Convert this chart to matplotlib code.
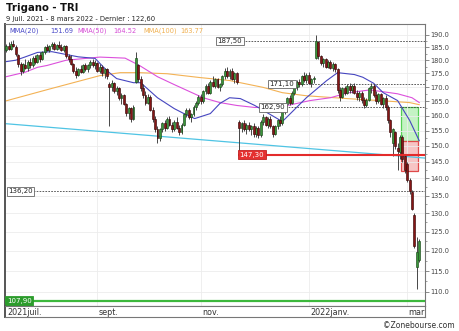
import matplotlib
matplotlib.use("Agg")
import matplotlib.pyplot as plt
import matplotlib.ticker as mticker
from matplotlib.patches import Rectangle
import numpy as np
import pandas as pd

# trading days shown on the chart
dates = pd.bdate_range("2021-07-09", "2022-03-08")

# daily candles (EUR)
opens = [184.0, 185.5, 184.5, 186.5, 185.0, 182.0, 178.5, 176.0, 178.0, 177.0,
         179.5, 178.0, 181.0, 179.5, 182.0, 180.5, 183.0, 185.0, 184.0, 185.5,
         186.5, 184.5, 186.0, 185.0, 184.0, 185.5, 181.5, 180.5, 178.5, 176.0,
         174.5, 176.5, 175.5, 178.0, 176.5, 178.0, 179.5, 178.0, 179.0, 176.0,
         177.5, 175.0, 176.5, 171.0, 170.0, 171.5, 168.5, 169.5, 166.0, 167.0,
         164.0, 161.0, 162.5, 159.0, 172.0, 178.0, 173.0, 169.5, 167.0, 164.5,
         166.5, 162.0, 159.0, 155.5, 152.5, 155.5, 157.5, 156.0, 159.0, 157.0,
         155.5, 158.0, 156.0, 154.5, 157.0, 160.5, 162.0, 159.5, 160.5, 163.0,
         164.5, 166.5, 165.0, 168.5, 170.5, 168.0, 172.0, 170.5, 173.0, 170.0,
         171.0, 174.0, 176.0, 174.0, 176.0, 173.0, 175.0, 158.0, 156.0, 157.5,
         155.5, 157.0, 155.5, 156.5, 154.0, 156.0, 153.5, 158.0, 159.5, 157.0,
         159.0, 156.5, 154.0, 156.5, 158.5, 157.5, 161.5, 164.0, 166.0, 164.5,
         168.0, 170.0, 172.0, 171.0, 174.0, 172.5, 174.5, 171.5, 173.0, 181.0,
         187.0, 181.5, 179.0, 180.5, 177.5, 179.5, 177.0, 178.5, 176.5, 169.0,
         166.5, 169.5, 168.0, 170.5, 169.0, 170.5, 168.0, 166.5, 168.0, 165.5,
         163.5, 165.5, 169.5, 170.5, 167.0, 165.0, 167.5, 164.0, 166.0, 163.0,
         158.5, 151.0, 154.5, 149.5, 148.0, 153.0, 147.0, 144.5, 139.5, 136.0,
         129.5, 116.0, 117.8]
highs = [186.5, 187.0, 187.5, 188.0, 186.0, 182.5, 179.5, 179.0, 180.5, 180.0,
         181.0, 181.5, 182.0, 182.5, 183.0, 183.5, 185.5, 186.5, 186.0, 187.0,
         187.0, 186.5, 187.5, 186.5, 186.0, 186.0, 182.5, 182.0, 179.0, 177.5,
         177.0, 178.0, 178.5, 179.0, 178.5, 180.0, 180.5, 180.0, 179.5, 178.5,
         178.0, 177.0, 177.0, 172.0, 172.5, 172.0, 170.5, 170.0, 168.0, 167.5,
         164.5, 163.0, 163.0, 163.5, 183.0, 178.5, 174.0, 171.0, 168.5, 167.5,
         167.0, 163.0, 160.0, 156.5, 156.0, 158.0, 158.5, 159.5, 160.0, 158.0,
         158.5, 159.5, 157.0, 157.5, 161.0, 162.5, 162.5, 161.0, 163.5, 165.0,
         167.0, 167.5, 169.0, 171.0, 171.5, 172.5, 174.0, 173.5, 173.5, 171.5,
         174.5, 177.0, 177.5, 176.5, 177.0, 175.5, 175.5, 158.5, 158.0, 158.5,
         157.5, 158.0, 157.0, 157.5, 156.5, 156.5, 158.5, 160.5, 160.0, 159.5,
         160.0, 157.0, 157.0, 159.0, 160.0, 162.0, 164.5, 166.5, 167.0, 168.5,
         170.5, 172.5, 173.0, 174.5, 175.5, 175.0, 175.5, 173.5, 174.0, 190.0,
         187.5, 182.0, 181.0, 181.0, 180.0, 180.0, 179.5, 179.0, 177.0, 170.0,
         170.0, 170.5, 171.0, 171.5, 171.0, 171.5, 169.0, 168.5, 168.5, 166.5,
         166.0, 170.0, 171.5, 171.0, 168.5, 168.0, 168.0, 166.5, 167.0, 163.5,
         159.0, 156.0, 155.0, 151.0, 153.5, 153.5, 147.5, 145.0, 140.0, 136.5,
         130.0, 123.5, 123.0]
lows = [183.0, 184.0, 184.0, 185.0, 181.5, 177.5, 174.5, 175.0, 176.5, 176.0,
        177.0, 177.5, 178.5, 179.0, 179.5, 180.0, 182.5, 183.5, 183.0, 184.5,
        184.0, 184.0, 184.5, 183.5, 183.0, 181.0, 179.5, 178.0, 175.0, 173.5,
        174.0, 175.0, 175.0, 176.0, 175.5, 177.0, 177.5, 176.5, 175.5, 175.0,
        174.0, 173.5, 173.0, 156.5, 168.5, 168.0, 167.0, 165.5, 164.0, 163.5,
        160.0, 159.0, 158.0, 158.5, 171.5, 172.0, 168.5, 166.0, 163.5, 164.0,
        161.5, 158.0, 154.5, 151.0, 151.5, 154.5, 155.0, 155.5, 156.5, 154.5,
        155.0, 155.5, 153.5, 154.0, 156.5, 159.5, 159.0, 158.0, 160.0, 162.0,
        163.5, 164.0, 164.5, 167.5, 167.5, 167.5, 170.0, 169.5, 169.5, 168.5,
        170.5, 173.0, 173.5, 173.0, 172.5, 171.5, 171.0, 147.3, 154.5, 155.0,
        154.0, 155.0, 153.5, 153.0, 153.0, 152.5, 153.0, 157.0, 156.5, 156.0,
        156.0, 153.0, 153.5, 155.5, 156.5, 157.0, 160.5, 163.0, 163.5, 164.0,
        167.0, 169.0, 170.0, 170.5, 172.0, 171.5, 171.0, 170.0, 171.5, 180.5,
        180.5, 178.0, 177.5, 177.0, 177.0, 176.5, 176.0, 175.5, 168.0, 165.0,
        166.0, 167.0, 167.5, 168.0, 168.0, 167.5, 165.5, 165.0, 164.5, 162.5,
        163.0, 165.0, 168.0, 166.5, 164.0, 164.5, 163.5, 162.5, 162.0, 157.5,
        153.0, 147.0, 149.0, 142.5, 146.0, 145.0, 141.5, 139.0, 135.5, 130.8,
        120.8, 110.6, 117.2]
closes = [185.5, 184.5, 186.5, 185.5, 182.5, 178.5, 176.0, 178.5, 177.0, 179.5,
          178.0, 181.0, 179.5, 182.0, 180.5, 183.0, 185.0, 184.0, 185.5, 186.5,
          184.5, 186.0, 185.0, 184.0, 185.5, 181.5, 180.5, 178.5, 176.0, 174.5,
          176.5, 175.5, 178.0, 176.5, 178.0, 179.5, 178.0, 179.0, 176.0, 177.5,
          175.0, 176.5, 174.0, 170.0, 171.5, 168.5, 169.5, 166.0, 167.0, 164.0,
          161.0, 162.5, 159.0, 163.0, 181.0, 173.0, 169.5, 167.0, 164.5, 166.5,
          162.0, 159.0, 155.5, 152.5, 155.5, 157.5, 156.0, 159.0, 157.0, 155.5,
          158.0, 156.0, 154.5, 157.0, 160.5, 162.0, 159.5, 160.5, 163.0, 164.5,
          166.5, 165.0, 168.5, 170.5, 168.0, 172.0, 170.5, 173.0, 170.0, 171.0,
          174.0, 176.0, 174.0, 176.0, 173.0, 175.0, 172.0, 156.0, 157.5, 155.5,
          157.0, 155.5, 156.5, 154.0, 156.0, 153.5, 158.0, 159.5, 157.0, 159.0,
          156.5, 154.0, 156.5, 158.5, 157.5, 161.5, 164.0, 166.0, 164.5, 168.0,
          170.0, 172.0, 171.0, 174.0, 172.5, 174.5, 171.5, 173.0, 173.5, 187.5,
          181.5, 179.0, 180.5, 177.5, 179.5, 177.0, 178.5, 176.5, 169.0, 166.5,
          169.5, 168.0, 170.5, 169.0, 170.5, 168.0, 166.5, 168.0, 165.5, 163.5,
          165.5, 169.5, 170.5, 167.0, 165.0, 167.5, 164.0, 166.0, 163.0, 158.5,
          154.5, 155.5, 150.0, 148.5, 153.0, 146.0, 142.5, 139.5, 136.2, 131.3,
          121.2, 119.8, 122.6]

# moving averages, read at a few trading-day positions
mma20_idx = [-0.5, 4, 8, 13, 19, 25, 30, 37, 42, 46, 53, 56, 63, 70, 74, 78.5,
             85, 89, 93, 97.5, 103.5, 115, 125, 133.5, 138, 145, 148.5, 153,
             157, 163, 168, 172]
mma20_val = [179.4, 180.0, 181.3, 183.0, 183.3, 182.2, 181.3, 180.7, 176.0, 173.1,
             171.6, 171.6, 166.2, 162.4, 160.7, 159.0, 160.7, 164.2, 166.2, 165.9,
             163.5, 158.0, 166.2, 172.4, 175.3, 174.6, 173.6, 171.4, 168.0, 165.2,
             158.4, 151.69]
mma50_idx = [-0.5, 8, 13, 17, 25, 39, 49.5, 55.5, 63, 70, 82, 89, 96, 103.5,
             115, 126.5, 135, 142, 151.5, 163, 169, 172]
mma50_val = [173.7, 175.5, 177.3, 178.0, 180.0, 181.2, 180.8, 178.0, 173.8, 170.9,
             166.2, 164.5, 163.5, 162.8, 163.1, 165.2, 166.2, 167.9, 169.0, 167.6,
             166.2, 164.52]
mma100_idx = [-0.5, 18, 39, 47.5, 55.5, 67, 80.5, 93, 107, 115, 125, 142, 155.5,
              168, 172]
mma100_val = [165.0, 169.3, 174.2, 175.3, 175.3, 174.9, 173.5, 172.4, 169.9, 168.0,
              166.9, 165.9, 165.2, 164.5, 163.77]

# long trend line (start / end)
trend_idx = [-0.5, 174.4]
trend_val = [157.3, 146.2]

# horizontal levels
dotted_levels = [187.50, 171.10, 162.90, 136.20]
support_level = 147.30
floor_level = 107.90
zone_top, zone_mid, zone_low = 162.90, 151.69, 142.30

month_labels = ["sept.", "nov.", "2022janv.", "mar"]

# ---------------------------------------------------------------
W, H = 460, 331
fig = plt.figure(figsize=(W / 100, H / 100), dpi=100)
fig.patch.set_facecolor("white")

def fx(px):
    return px / W

def fy(py):
    return 1 - py / H

ax = fig.add_axes([fx(5), fy(306), 420 / W, 282 / H])
ax.set_yscale("log")
ax.set_ylim(106.76, 194.4)
ax.set_xlim(-0.5, 174.4)

o = np.array(opens)
h = np.array(highs)
l = np.array(lows)
c = np.array(closes)
idx = np.arange(len(c))
up = c >= o

month_pos = [i for i in range(1, len(dates))
             if dates[i].month != dates[i - 1].month and dates[i].month in (9, 11, 1, 3)]

# grid
ticks = np.arange(110, 191, 5)
ax.yaxis.set_major_locator(mticker.FixedLocator(ticks))
ax.yaxis.set_minor_locator(mticker.FixedLocator(ticks[:-1] + 2.5))
ax.yaxis.set_major_formatter(mticker.FuncFormatter(lambda v, p: f"{v:.1f}"))
ax.yaxis.set_minor_formatter(mticker.NullFormatter())
ax.set_xticks(month_pos)
ax.set_xticklabels([])
ax.grid(True, which="major", color="#ececec", lw=0.6, zorder=0)
ax.yaxis.tick_right()
ax.tick_params(axis="y", which="major", labelsize=4.8, length=3, width=0.6,
               color="#777", labelcolor="#444", pad=1)
ax.tick_params(axis="y", which="minor", length=1.5, width=0.5, color="#777")
ax.tick_params(axis="x", length=0)

for s in ax.spines.values():
    s.set_color("#777")
    s.set_linewidth(0.8)
ax.spines["left"].set_color("#555")
ax.spines["left"].set_linewidth(1.4)

# zones on the right
zx0, zx1 = 164.6, 171.3
ax.add_patch(Rectangle((zx0, zone_mid), zx1 - zx0, zone_top - zone_mid,
                       fc="#c4f3c4", ec="#55d055", lw=0.9, zorder=1))
ax.add_patch(Rectangle((zx0, zone_low), zx1 - zx0, zone_mid - zone_low,
                       fc="#f7c4c4", ec="#df4a4a", lw=0.9, zorder=1))

# trend line and moving averages
ax.plot(trend_idx, trend_val, color="#4fc4e4", lw=0.9, zorder=2)
ax.plot(mma100_idx, mma100_val, color="#f3b255", lw=0.8, zorder=2)
ax.plot(mma50_idx, mma50_val, color="#dc50dc", lw=0.8, zorder=2)
ax.plot(mma20_idx, mma20_val, color="#4646c0", lw=0.8, zorder=2)

# levels
lbl_x = [87.4, 109.0, 105.3, 0.3]
for lev, lx in zip(dotted_levels, lbl_x):
    ax.hlines(lev, lx, 174.4, colors="#444", linestyles=(0, (2, 1.5)), lw=0.6, zorder=2)
    ax.text(lx + 0.6, lev, f"{lev:.2f}".replace(".", ","), fontsize=5, color="#222",
            ha="left", va="center", zorder=8,
            bbox=dict(boxstyle="square,pad=0.2", fc="white", ec="#666", lw=0.6))

ax.hlines(support_level, 96.5, 174.4, colors="#e32b2b", lw=1.5, zorder=5)
ax.text(97.1, support_level, f"{support_level:.2f}".replace(".", ","), fontsize=5,
        color="white", ha="left", va="center", zorder=8,
        bbox=dict(boxstyle="square,pad=0.25", fc="#e53030", ec="#c02020", lw=0.6))

ax.hlines(floor_level, -0.5, 174.4, colors="#3cb83c", lw=1.6, zorder=5)
ax.text(0.3, floor_level, f"{floor_level:.2f}".replace(".", ","), fontsize=5,
        color="white", ha="left", va="center", zorder=8,
        bbox=dict(boxstyle="square,pad=0.25", fc="#2c9c2c", ec="#2c9c2c", lw=0.6))

# candles
ax.vlines(idx, l, h, color="#3a3a3a", lw=0.65, zorder=3)
ax.bar(idx[up], (c - o)[up], bottom=o[up], width=0.8, color="#3a963a",
       edgecolor="#1a4a1a", lw=0.45, zorder=4)
ax.bar(idx[~up], (o - c)[~up], bottom=c[~up], width=0.8, color="#861616",
       edgecolor="#3a0808", lw=0.45, zorder=4)

# x-axis strip
sx = fig.add_axes([fx(5), fy(317), 420 / W, 11 / H])
sx.set_xlim(ax.get_xlim())
sx.set_ylim(0, 1)
sx.set_xticks([])
sx.set_yticks([])
for s in sx.spines.values():
    s.set_color("#777")
    s.set_linewidth(0.8)
sx.spines["left"].set_color("#555")
sx.spines["left"].set_linewidth(1.4)
sx.text(0.3, 0.45, "2021juil.", fontsize=5.8, color="#333", ha="left", va="center")
for p, lab in zip(month_pos, month_labels):
    sx.text(p + 0.5, 0.45, lab, fontsize=5.8, color="#333", ha="left", va="center")

# titles and legend
fig.text(fx(6), fy(3), "Trigano - TRI", fontsize=7.3, fontweight="bold",
         color="#111", ha="left", va="top")
fig.text(fx(6), fy(15.5), "9 juil. 2021 - 8 mars 2022 - Dernier : 122,60",
         fontsize=4.9, color="#222", ha="left", va="top")

legend = [(9, "MMA(20)", "#4a4ac8"), (50, f"{mma20_val[-1]:.2f}", "#4a4ac8"),
          (77, "MMA(50)", "#d64fd6"), (113, f"{mma50_val[-1]:.2f}", "#d64fd6"),
          (143, "MMA(100)", "#f0b050"), (180, f"{mma100_val[-1]:.2f}", "#f0b050")]
for px, txt, col in legend:
    fig.text(fx(px), fy(31), txt, fontsize=4.8, color=col, ha="left", va="center")

fig.text(fx(455), fy(325), "\u00a9Zonebourse.com", fontsize=5.5, color="#333",
         ha="right", va="center")

fig.savefig("out.png", dpi=100)
